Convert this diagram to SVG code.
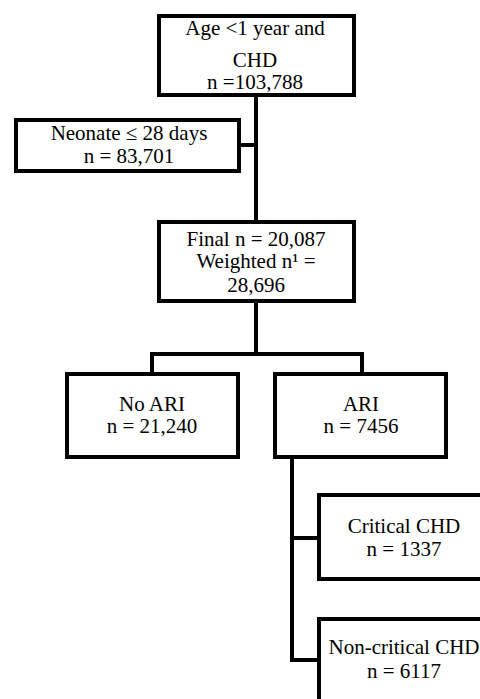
<svg xmlns="http://www.w3.org/2000/svg" width="480" height="699" viewBox="0 0 480 699">
<style>
.box{fill:#fff;stroke:#000;stroke-width:4}
.t{font-family:"Liberation Serif","Times New Roman",serif;font-size:21px;fill:#000;text-anchor:middle}
.c{fill:none;stroke:#000;stroke-width:4}
</style>
<rect width="480" height="699" fill="#fff"/>
<g id="connectors">
<path class="c" d="M256 97 V220"/>
<path class="c" d="M239 145 H256"/>
<path class="c" d="M256 303 V354"/>
<path class="c" d="M152 372 V354 H362 V372"/>
<path class="c" d="M292 459 V660 H317"/>
<path class="c" d="M292 538 H317"/>
</g>
<g id="node-age">
<rect class="box" x="159" y="16" width="195" height="79"/>
<text class="t" x="255" y="35">Age &lt;1 year and</text>
<text class="t" x="255" y="67">CHD</text>
<text class="t" x="255" y="89">n =103,788</text>
</g>
<g id="node-neonate">
<rect class="box" x="16" y="120" width="223" height="51"/>
<text class="t" x="129" y="140">Neonate ≤ 28 days</text>
<text class="t" x="129" y="163">n = 83,701</text>
</g>
<g id="node-final">
<rect class="box" x="159" y="222" width="195" height="79"/>
<text class="t" x="256" y="246">Final n = 20,087</text>
<text class="t" x="256" y="268">Weighted n¹ =</text>
<text class="t" x="256" y="292">28,696</text>
</g>
<g id="node-noari">
<rect class="box" x="67" y="374" width="171" height="83"/>
<text class="t" x="152" y="411">No ARI</text>
<text class="t" x="152" y="433">n = 21,240</text>
</g>
<g id="node-ari">
<rect class="box" x="275" y="374" width="171" height="83"/>
<text class="t" x="361" y="411">ARI</text>
<text class="t" x="361" y="433">n = 7456</text>
</g>
<g id="node-critical">
<rect class="box" x="319" y="495" width="171" height="84"/>
<text class="t" x="404" y="533">Critical CHD</text>
<text class="t" x="404" y="556">n = 1337</text>
</g>
<g id="node-noncritical">
<rect class="box" x="319" y="619" width="171" height="100"/>
<text class="t" x="404" y="654">Non-critical CHD</text>
<text class="t" x="404" y="678">n = 6117</text>
</g>
</svg>
